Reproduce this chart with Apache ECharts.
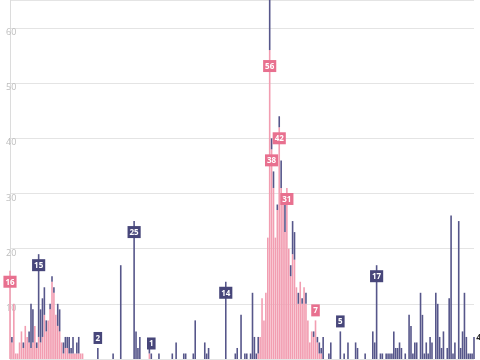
<!DOCTYPE html>
<html><head><meta charset="utf-8">
<script src="https://cdn.jsdelivr.net/npm/echarts@6/dist/echarts.min.js"></script>
<style>html,body{margin:0;padding:0;background:#fff}#c{width:480px;height:360px}</style>
</head><body><div id="c"></div>
<script>
// day index 0..243
const pinkValues = [
16,3,10,1,1,3,5,2,6,4,3,2,3,6,2,4,3,4,8,5,
7,9,14,12,8,6,5,3,1,2,2,1,1,1,1,1,1,1,1,0,
0,0,0,0,0,0,0,0,0,0,0,0,0,0,0,0,0,0,0,0,
0,0,0,0,0,0,0,0,0,0,0,0,0,1,0,0,0,0,0,0,
0,0,0,0,0,0,0,0,0,0,0,0,0,0,0,0,0,0,0,0,
0,0,0,0,0,0,0,0,0,0,0,0,0,0,0,0,0,0,0,0,
0,0,0,0,0,0,0,0,0,0,1,4,11,7,12,22,56,38,31,22,
27,42,31,28,23,31,20,15,19,18,13,10,14,10,13,10,7,3,5,4,
7,3,1,1,0,0,0,0,0,0,0,0,0,0,0,0,0,0,0,0,
0,0,0,0,0,0,0,0,0,0,0,0,0,0,0,0,0,0,0,0,
0,0,0,0,0,0,0,0,0,0,0,0,0,0,0,0,0,0,0,0,
0,0,0,0,0,0,0,0,0,0,0,0,0,0,0,0,0,0,0,0,
0,0,0,0
];
const darkValues = [
0,1,0,0,0,0,0,1,0,0,2,8,6,0,1,15,6,7,5,2,
0,1,1,1,0,4,4,0,2,2,2,3,1,3,0,2,3,0,0,0,
0,0,0,0,0,0,2,0,0,0,0,0,0,0,1,0,0,0,17,0,
0,0,0,0,0,25,5,2,4,0,0,0,0,1,1,0,0,0,1,0,
0,0,0,0,0,1,0,3,0,0,0,1,1,0,0,0,1,7,0,0,
0,0,3,1,2,0,0,0,0,0,0,0,0,14,0,0,0,0,1,2,
0,8,0,1,1,0,1,12,4,1,3,0,0,0,0,0,12,2,3,0,
1,2,5,0,5,0,0,2,6,5,0,2,0,1,0,2,0,0,0,1,
0,1,2,1,4,0,0,1,3,0,0,0,0,5,0,1,0,3,0,0,
0,3,2,0,0,0,1,0,0,0,5,3,17,0,1,1,0,1,1,1,
1,5,2,2,3,2,0,1,0,8,6,1,3,3,0,12,8,1,3,1,
4,3,0,12,10,4,2,5,0,2,11,26,1,3,0,25,2,5,12,4,
1,1,1,4
];
const days = pinkValues.map((_, i) => 'd' + i);
const yTicks = [10,20,30,40,50,60];
// labelled days: [index, placement]
const pinkLabels = [[0,'in'],[136,'in'],[137,'in'],[141,'in'],[145,'in'],[160,'out']];
const darkLabels = [[15,'in'],[46,'out'],[65,'in'],[74,'out'],[113,'in'],[173,'out'],[192,'in']];
const plainLabels = [243];

const PINK = '#f29db1', PINK_LAB = '#e8708f';
const DARK = '#56568a', DARK_LAB = '#47467a';

function labelFor(place, bg, extra) {
  const base = {
    show: true, color: '#fff', fontSize: 8, fontWeight: 'bold',
    fontFamily: 'Open Sans', backgroundColor: bg, padding: [2, 2, 1, 2],
    lineHeight: 9
  };
  if (place === 'in') Object.assign(base, {position: 'insideTop', distance: 5});
  else Object.assign(base, {position: 'top', distance: 4});
  return Object.assign(base, extra || {});
}

function build(values, labels, bg, isDark) {
  return values.map((v, i) => {
    const item = {value: v};
    const l = labels.find(x => x[0] === i);
    if (l) {
      item.label = labelFor(l[1], bg, (i === 136 && !isDark) ? {offset: [0, 5]} : null);
    }
    if (isDark && plainLabels.includes(i)) {
      item.label = {show: true, position: [3, 1], align: 'left', verticalAlign: 'middle',
        color: '#222', fontSize: 9, fontWeight: 'bold', fontFamily: 'Open Sans',
        formatter: String(v)};
    }
    return item;
  });
}

const chart = echarts.init(document.getElementById('c'), null, {renderer: 'canvas'});
chart.setOption({
  animation: false,
  grid: {left: 10, right: 6, top: 0, bottom: 1},
  xAxis: {type: 'category', data: days, boundaryGap: false, show: false},
  yAxis: {
    type: 'value', min: 0, max: 65.07, interval: 10,
    axisLine: {show: true, lineStyle: {color: '#dcdcdc', width: 1}},
    axisTick: {show: false},
    splitLine: {lineStyle: {color: '#e4e4e4', width: 1}},
    axisLabel: {
      inside: true, margin: -4, align: 'left', verticalAlign: 'top',
      color: '#bdbdbd', fontSize: 9, fontFamily: 'Open Sans',
      showMinLabel: false, showMaxLabel: false,
      formatter: v => yTicks.includes(v) ? String(v) : ''
    }
  },
  series: [
    {type: 'bar', stack: 's', barWidth: 1.6, clip: false,
     itemStyle: {color: PINK}, data: build(pinkValues, pinkLabels, PINK_LAB, false)},
    {type: 'bar', stack: 's', barWidth: 1.6, clip: false,
     itemStyle: {color: DARK}, data: build(darkValues, darkLabels, DARK_LAB, true)}
  ]
});
</script></body></html>
